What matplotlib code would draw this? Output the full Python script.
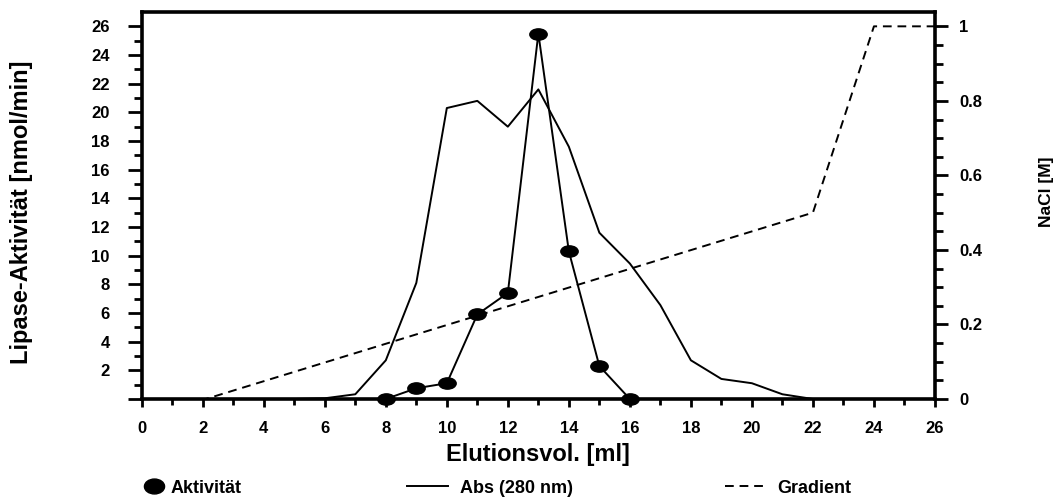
import matplotlib
matplotlib.use('Agg')
import matplotlib.pyplot as plt
from matplotlib.lines import Line2D
from matplotlib.path import Path
from matplotlib.transforms import Affine2D

plt.rcParams['font.family'] = ['Liberation Sans', 'DejaVu Sans']
plt.rcParams['font.weight'] = 'bold'

# Activity (left axis, nmol/min)
act_x = [8, 9, 10, 11, 12, 13, 14, 15, 16]
act_y = [0, 0.75, 1.1, 5.9, 7.4, 25.5, 10.3, 2.3, 0]

# Absorbance 280 nm (drawn in left-axis units)
abs_x = [0, 1, 2, 3, 4, 5, 6, 7, 8, 9, 10, 11, 12, 13, 14, 15, 16, 17, 18, 19, 20, 21, 22, 23, 24, 25, 26]
abs_y = [0, 0, 0, 0, 0, 0, 0.05, 0.33, 2.7, 8.1, 20.3, 20.8, 19.0, 21.6, 17.6, 11.6, 9.45, 6.55, 2.7, 1.4, 1.1, 0.33, 0, 0, 0, 0, 0]

# NaCl gradient (right axis, M)
grad_x = [0, 2.1, 22, 24, 26]
grad_y = [0, 0, 0.5, 1.0, 1.0]

left_major = list(range(0, 27, 2))
left_labels = [str(v) if v > 0 else '' for v in left_major]
left_minor = list(range(1, 27, 2))
x_major = list(range(0, 27, 2))
x_minor = list(range(1, 27, 2))
right_major = [0, 0.2, 0.4, 0.6, 0.8, 1.0]
right_labels = ['0', '0.2', '0.4', '0.6', '0.8', '1']
right_minor = [v / 20 for v in range(0, 21)]

LW = 1.4
DASH = (4.5, 3)

fig = plt.figure(figsize=(10.61, 4.98), dpi=100)
ax = fig.add_axes([0.1336, 0.1988, 0.8812 - 0.1336, 0.9759 - 0.1988])
ax2 = ax.twinx()

ellipse = Affine2D().scale(1.0, 0.65).transform_path(Path.unit_circle())
ellipse_leg = Affine2D().scale(1.0, 0.74).transform_path(Path.unit_circle())

ax.plot(abs_x, abs_y, color='black', lw=LW, zorder=2)
ax.plot(act_x, act_y, color='black', lw=LW, marker=ellipse, markersize=12.5,
        markerfacecolor='black', markeredgecolor='black', clip_on=False, zorder=4)
ax2.plot(grad_x, grad_y, color='black', lw=LW, dashes=DASH, zorder=2)

ax.set_xlim(0, 26)
ax.set_ylim(0, 27)
ax2.set_ylim(0, 27 / 26)

# spines
ax.spines['right'].set_visible(False)
for s in ['left', 'top', 'bottom']:
    ax.spines[s].set_linewidth(2.6)
    ax2.spines[s].set_visible(False)
ax2.spines['right'].set_linewidth(2.6)

ax.set_xticks(x_major)
ax.set_xticks(x_minor, minor=True)
ax.set_yticks(left_major)
ax.set_yticklabels(left_labels)
ax.set_yticks(left_minor, minor=True)
ax.tick_params(axis='x', which='major', direction='out', length=6, width=2, labelsize=12, pad=10)
ax.tick_params(axis='x', which='minor', direction='out', length=4, width=2)
ax.tick_params(axis='y', which='major', direction='out', length=10, width=2, labelsize=12, pad=13)
ax.tick_params(axis='y', which='minor', direction='out', length=6, width=2)

ax2.set_yticks(right_major)
ax2.set_yticklabels(right_labels)
ax2.set_yticks(right_minor, minor=True)
ax2.tick_params(axis='y', which='major', direction='out', length=9.5, width=2, labelsize=12, pad=8)
ax2.tick_params(axis='y', which='minor', direction='out', length=6, width=2)

for lab in ax.get_xticklabels() + ax.get_yticklabels() + ax2.get_yticklabels():
    lab.set_fontweight('bold')

ax.set_xlabel('Elutionsvol. [ml]', fontsize=17, fontweight='bold', labelpad=5)
fig.text(0.0207, 0.573, 'Lipase-Aktivität [nmol/min]', rotation=90, fontsize=17,
         fontweight='bold', ha='center', va='center')
fig.text(0.9863, 0.615, 'NaCl [M]', rotation=90, fontsize=12.5,
         fontweight='bold', ha='center', va='center')

# legend entries, one per slot along the bottom
h_act = Line2D([], [], linestyle='none', marker=ellipse_leg, markersize=14.5, color='black')
h_abs = Line2D([], [], color='black', lw=LW)
h_grad = Line2D([], [], color='black', lw=LW, dashes=DASH)
slots = [
    (h_act, 'Aktivität', 142.7, 1.2, 0.35),
    (h_abs, 'Abs (280 nm)', 406.7, 2.3, 0.65),
    (h_grad, 'Gradient', 725, 2.2, 0.67),
]
for h, lbl, xpx, hlen, tpad in slots:
    fig.legend([h], [lbl], loc='center left', bbox_to_anchor=(xpx / 1061, 0.02),
               frameon=False, handlelength=hlen, handletextpad=tpad,
               borderpad=0, borderaxespad=0,
               prop={'weight': 'bold', 'size': 13})

fig.savefig('out.png', dpi=100)
